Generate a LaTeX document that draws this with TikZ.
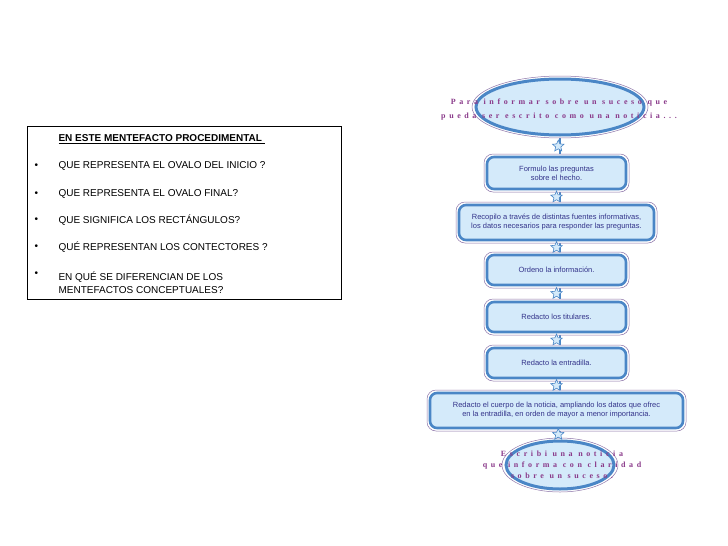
\documentclass[tikz,border=0pt]{standalone}
\usepackage{fontspec}
\setmainfont{Liberation Sans}
\newfontfamily\elfont[LetterSpace=45]{Liberation Serif}
\usetikzlibrary{shapes.geometric,calc}
\definecolor{bfill}{HTML}{D4EAFA}
\definecolor{bline}{HTML}{4A86C6}
\definecolor{btext}{HTML}{33338A}
\definecolor{ptext}{HTML}{8A3A8A}
\definecolor{outl}{HTML}{8C74A8}
\tikzset{
 stepbox/.style={draw=bline,line width=2.6pt,fill=bfill,rounded corners=7pt,text=btext,font=\fontsize{7.5}{9}\selectfont,align=center,inner sep=0pt},
 outer/.style={draw=outl,line width=0.5pt,rounded corners=9pt},
 ovalbox/.style={ellipse,draw=bline,line width=3pt,fill=bfill},
 oval/.style={draw=outl,line width=0.5pt},
 startxt/.style={text=ptext,font=\elfont\bfseries\fontsize{8}{14}\selectfont,align=center},
 connstar/.style={star,star points=5,star point ratio=2.2,minimum size=12pt,inner sep=0pt,draw=bline,fill=bfill,line width=0.6pt},
 lefttxt/.style={anchor=west,font=\fontsize{10}{13}\selectfont,align=left}
}
\begin{document}
\begin{tikzpicture}[x=1pt,y=-1pt]
\useasboundingbox (0,0) rectangle (728,546);
% left box
\node[draw,line width=0.8pt,minimum width=314pt,minimum height=173pt,anchor=north west,inner sep=0pt] (lb) at (27,126) {};
\node[anchor=west,font=\bfseries\fontsize{10}{12}\selectfont] (lt) at (55,139) {\underline{EN ESTE MENTEFACTO PROCEDIMENTAL\ }};
\foreach \y/\t [count=\i] in {166/{QUE REPRESENTA EL OVALO DEL INICIO ?},194/{QUE REPRESENTA EL OVALO FINAL?},220/{QUE SIGNIFICA LOS RECTÁNGULOS?},247/{QUÉ REPRESENTAN LOS CONTECTORES ?}}{
 \node[anchor=west,font=\fontsize{10}{12}\selectfont] (b\i) at (31,\y) {•};
 \node[lefttxt] (q\i) at (55,\y) {\t};
}
\node[anchor=west,font=\fontsize{10}{12}\selectfont] (b5) at (31,274) {•};
\node[lefttxt,anchor=north west] (q5) at (55,268) {EN QUÉ SE DIFERENCIAN DE LOS\\MENTEFACTOS CONCEPTUALES?};
% spine
\draw[bline,line width=2.5pt] (560,130) -- (560,448);
% top oval
\draw[oval,fill=white] (560,107) ellipse (88 and 31);
\node[ovalbox,minimum width=168pt,minimum height=56pt] (top) at (560,107) {};
\node[startxt] (toptxt) at (559,110) {Para informar sobre un suceso que\\ pueda ser escrito como una noticia...};
% boxes
\foreach \n/\x/\y/\w/\h/\t in {
 s1/556.5/173/139/32/{Formulo las preguntas\\sobre el hecho.},
 s2/556.5/222.5/195/35/{Recopilo a través de distintas fuentes informativas,\\los datos necesarios para responder las preguntas.},
 s3/556.5/270/139/30/{Ordeno la información.},
 s4/556.5/317/139/30/{Redacto los titulares.},
 s5/556.5/363/139/30/{Redacto la entradilla.},
 s6/556.5/410.5/253/35/{Redacto el cuerpo de la noticia, ampliando los datos que ofrec\\en la entradilla, en orden de mayor a menor importancia.}}{
 \draw[outer,fill=white] (\x-\w/2-3,\y-\h/2-3) rectangle (\x+\w/2+3,\y+\h/2+3);
 \node[stepbox,minimum width=\w pt,minimum height=\h pt] (\n) at (\x,\y) {\t};
}
% bottom oval
\draw[oval,fill=white] (560,465) ellipse (58 and 27);
\node[ovalbox,minimum width=108pt,minimum height=48pt] (bot) at (560,465) {};
\node[startxt,font=\elfont\bfseries\fontsize{8}{11}\selectfont] (bottxt) at (562,465) {Escribi una noticia\\que informa con claridad\\sobre un suceso.};
% stars
\foreach \a/\b [count=\i] in {top/s1,s1/s2,s2/s3,s3/s4,s4/s5,s5/s6,s6/bot}{
 \node[connstar] (st\i) at ($(\a.south)!0.5!(\b.north)$) {};
}
\end{tikzpicture}
\end{document}
